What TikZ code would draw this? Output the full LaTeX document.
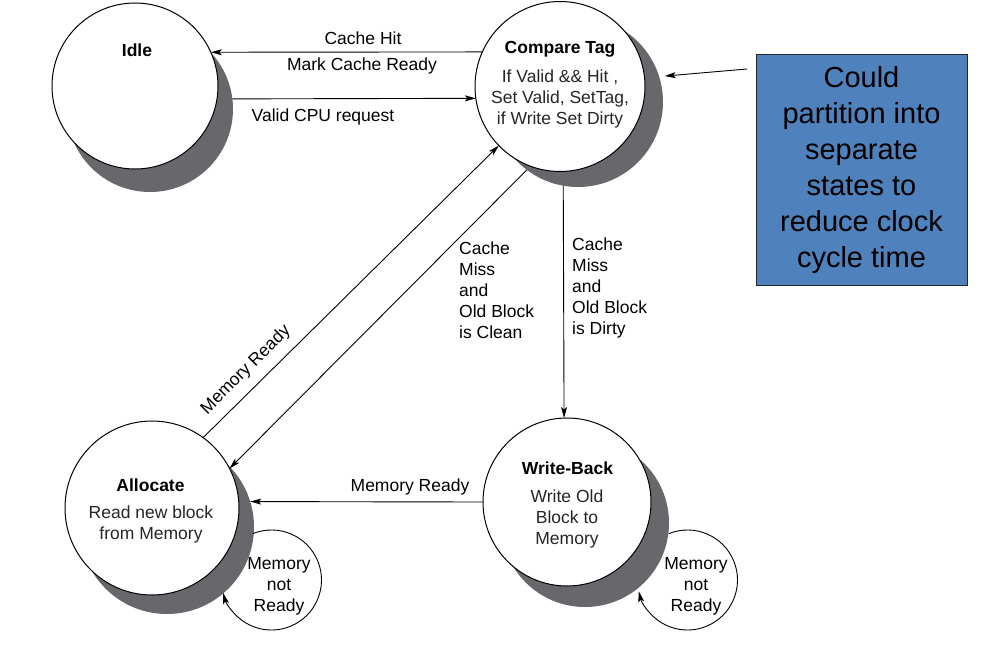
\documentclass[tikz,border=0pt]{standalone}
\usepackage{fontspec}
\setmainfont{Liberation Sans}
\usetikzlibrary{arrows.meta}
\definecolor{shade}{RGB}{104,104,108}
\definecolor{noteblue}{RGB}{79,129,189}

\begin{document}
\begin{tikzpicture}[x=1pt,y=1pt,
  state/.style={circle, draw=black, line width=1pt, fill=white,
    minimum size=#1, inner sep=0pt, outer sep=0pt},
  shadowdisc/.style={circle, fill=shade, minimum size=#1,
    inner sep=0pt, outer sep=0pt},
  arr/.style={-{Stealth[length=11pt,width=6pt,inset=2.5pt]}, line width=0.9pt},
  lbl/.style={font=\fontsize{17.5}{21}\selectfont, inner sep=0pt, align=center},
  body/.style={lbl, text=black!85},
  ttl/.style={lbl, font=\fontsize{17.5}{21}\selectfont\bfseries},
  notebox/.style={draw=black!85, line width=0.8pt, fill=noteblue,
    minimum width=211pt, minimum height=231pt, inner sep=0pt,
    font=\fontsize{29}{36}\selectfont, align=center}
]
% canvas
\fill[white] (0,0) rectangle (983,-645);
\useasboundingbox (0,0) rectangle (983,-645);

% drop shadows of the states
\node[shadowdisc=166] (idleS)  at (150,-109) {};
\node[shadowdisc=170] (cmpS)   at (578,-102) {};
\node[shadowdisc=174] (allocS) at (167,-527) {};
\node[shadowdisc=168] (wbS)    at (585,-523) {};

% self loops (Memory not Ready)
\coordinate (allocLoop) at (271.5,-580);
\coordinate (wbLoop)    at (687.5,-580);
\draw[arr] ([shift={(112:50)}]allocLoop) arc[start angle=112, end angle=-165, radius=50];
\draw[arr] ([shift={(112:50)}]wbLoop) arc[start angle=112, end angle=-167, radius=50];

% states
\node[state=166] (idle)  at (135,-86)   {};
\node[state=170] (cmp)   at (560,-86.5) {};
\node[state=174] (alloc) at (152,-508)  {};
\node[state=168] (wb)    at (567,-502)  {};

% state texts
\node[ttl]  (tIdle)  at (137,-50)    {Idle};
\node[ttl]  (tCmp)   at (560,-49)    {Compare Tag};
\node[body] (bCmp)   at (560,-99)    {If Valid \&\& Hit ,\\Set Valid, SetTag,\\if Write Set Dirty};
\node[ttl]  (tAlloc) at (150.5,-485) {Allocate};
\node[body] (bAlloc) at (151,-524.5) {Read new block\\from Memory};
\node[ttl]  (tWb)    at (567.5,-468) {Write-Back};
\node[body] (bWb)    at (567,-519)   {Write Old\\Block to\\Memory};

% transitions
\draw[arr] (cmp.156) -- (idle.24);
\draw[arr] (idleS.7) -- (cmp.188.5);
\draw[arr] (alloc.54) -- (cmp.224.3);
\draw[arr] (cmpS.233) -- (alloc.27);
\draw[arr] (cmpS.260.5) -- (wb.92);
\draw[arr] (wb.west) -- (allocS.17);

% transition labels
\node[lbl] (lHit)   at (363,-38)  {Cache Hit};
\node[lbl] (lMark)  at (362,-66)  {Mark Cache Ready};
\node[lbl] (lReq)   at (323,-117) {Valid CPU request};
\node[lbl, rotate=45] (lMemUp) at (246,-370) {Memory Ready};
\node[lbl, anchor=west, align=left] (lClean) at (459,-290.5)
  {Cache\\Miss\\and\\Old Block\\is Clean};
\node[lbl, anchor=west, align=left] (lDirty) at (572,-288)
  {Cache\\Miss\\and\\Old Block\\is Dirty};
\node[lbl] (lMemLeft) at (410,-487) {Memory Ready};
\node[lbl] (lLoopA) at (279,-586) {Memory\\not\\Ready};
\node[lbl] (lLoopW) at (696,-586) {Memory\\not\\Ready};

% annotation
\node[notebox] (note) at (861.5,-169.5)
  {Could\\partition into\\separate\\states to\\reduce clock\\cycle time};
\coordinate (noteTail) at (747,-69);
\draw[arr] (noteTail) -- ([shift={(5,2.5)}]cmpS.16);
\end{tikzpicture}
\end{document}
